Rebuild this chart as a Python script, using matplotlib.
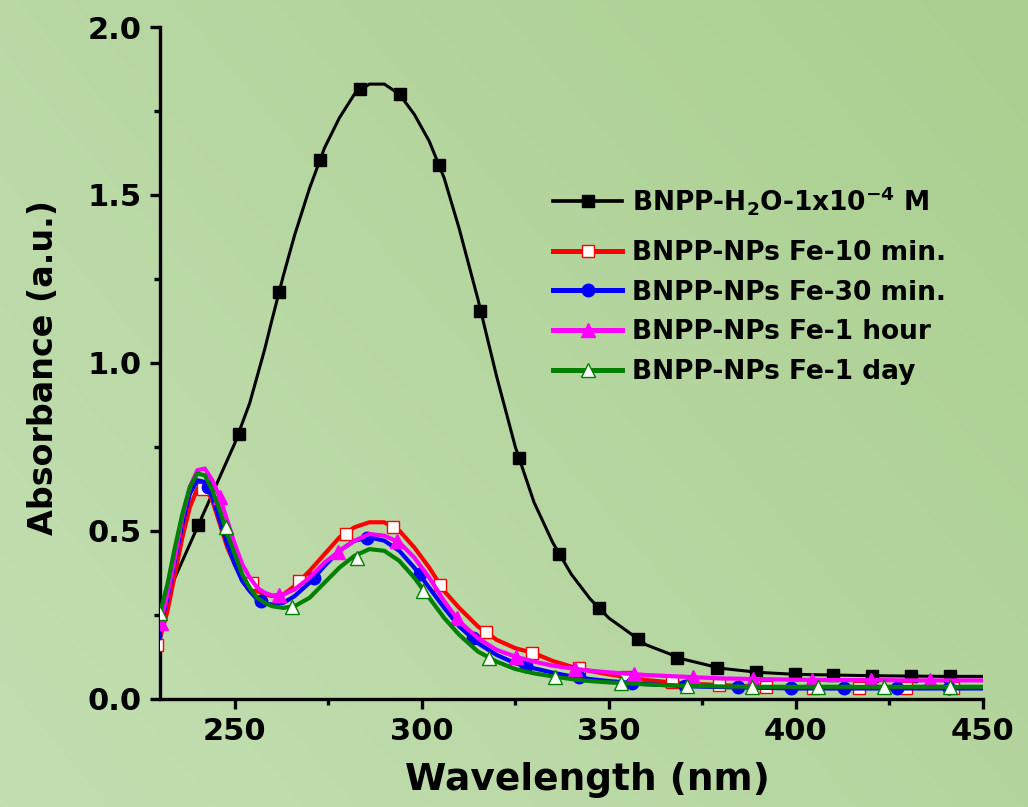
import numpy as np
import matplotlib
matplotlib.use('Agg')
import matplotlib.pyplot as plt
from matplotlib.lines import Line2D
from matplotlib.colors import LinearSegmentedColormap

# -------------------- data --------------------
wl = [230, 232, 234, 236, 238, 240, 242, 244, 246, 248, 250, 252, 254, 256, 258,
      260, 263, 266, 270, 274, 278, 282, 286, 290, 294, 298, 302, 306, 310, 315,
      320, 325, 330, 335, 340, 345, 350, 360, 370, 380, 390, 400, 410, 420, 430, 440, 450]

h2o = [0.27, 0.31, 0.36, 0.41, 0.46, 0.51, 0.56, 0.61, 0.66, 0.71, 0.76, 0.82, 0.88, 0.96, 1.04,
       1.13, 1.26, 1.38, 1.52, 1.64, 1.73, 1.80, 1.83, 1.83, 1.80, 1.74, 1.66, 1.55, 1.40, 1.19,
       0.96, 0.75, 0.585, 0.465, 0.37, 0.297, 0.24, 0.16, 0.117, 0.09, 0.078, 0.072, 0.07, 0.068, 0.067, 0.066, 0.066]

fe_10min = [0.18, 0.26, 0.37, 0.48, 0.57, 0.625, 0.63, 0.59, 0.52, 0.45, 0.40, 0.36, 0.34, 0.32, 0.31,
            0.305, 0.31, 0.335, 0.38, 0.43, 0.48, 0.51, 0.525, 0.525, 0.50, 0.45, 0.39, 0.32, 0.27, 0.215,
            0.175, 0.15, 0.135, 0.112, 0.095, 0.082, 0.072, 0.055, 0.045, 0.04, 0.035, 0.032, 0.032, 0.032, 0.032, 0.032, 0.032]

fe_30min = [0.21, 0.30, 0.41, 0.52, 0.61, 0.65, 0.645, 0.60, 0.53, 0.46, 0.40, 0.35, 0.32, 0.295, 0.283,
            0.28, 0.285, 0.305, 0.345, 0.395, 0.44, 0.47, 0.48, 0.47, 0.44, 0.39, 0.33, 0.27, 0.215, 0.165,
            0.13, 0.105, 0.09, 0.077, 0.066, 0.058, 0.052, 0.043, 0.037, 0.034, 0.032, 0.03, 0.03, 0.03, 0.03, 0.03, 0.03]

fe_1hour = [0.22, 0.31, 0.42, 0.54, 0.63, 0.68, 0.685, 0.65, 0.60, 0.53, 0.46, 0.40, 0.36, 0.33, 0.315,
            0.307, 0.31, 0.325, 0.36, 0.405, 0.44, 0.47, 0.49, 0.485, 0.465, 0.42, 0.36, 0.29, 0.23, 0.18,
            0.145, 0.125, 0.11, 0.098, 0.09, 0.083, 0.078, 0.07, 0.065, 0.06, 0.058, 0.056, 0.055, 0.055, 0.054, 0.054, 0.054]

fe_1day = [0.255, 0.34, 0.45, 0.55, 0.63, 0.67, 0.665, 0.62, 0.56, 0.49, 0.43, 0.37, 0.33, 0.30, 0.285,
           0.275, 0.27, 0.275, 0.30, 0.345, 0.39, 0.425, 0.445, 0.44, 0.41, 0.36, 0.30, 0.24, 0.19, 0.14,
           0.11, 0.088, 0.075, 0.066, 0.058, 0.052, 0.048, 0.042, 0.038, 0.036, 0.035, 0.035, 0.035, 0.035, 0.035, 0.035, 0.035]

# marker positions (symbols are only drawn every few points in the original)
h2o_mx = [240.2, 251.1, 261.8, 272.8, 283.5, 294.2, 304.6, 315.6, 326.0, 336.7,
          347.4, 357.7, 368.3, 378.9, 389.3, 399.7, 410.0, 420.5, 430.8, 441.3]
h2o_my = [0.516, 0.787, 1.21, 1.605, 1.815, 1.80, 1.59, 1.155, 0.715, 0.43,
          0.27, 0.178, 0.122, 0.09, 0.078, 0.072, 0.07, 0.068, 0.067, 0.066]

fe_10min_mx = [229.1, 241.6, 254.5, 267.2, 279.7, 292.4, 304.9, 317.3, 329.6, 342.0,
               354.6, 367.0, 379.6, 392.0, 404.5, 417.0, 429.5, 442.0]
fe_10min_my = [0.16, 0.625, 0.343, 0.35, 0.49, 0.51, 0.338, 0.197, 0.136, 0.09,
               0.065, 0.048, 0.04, 0.034, 0.032, 0.032, 0.032, 0.032]

fe_30min_mx = [228.7, 242.9, 257.1, 271.2, 285.4, 299.5, 313.7, 327.9, 342.0, 356.2,
               370.3, 384.5, 398.7, 412.8, 427.0, 441.1]
fe_30min_my = [0.19, 0.63, 0.29, 0.36, 0.478, 0.37, 0.18, 0.098, 0.063, 0.045,
               0.037, 0.033, 0.03, 0.03, 0.03, 0.03]

fe_1hour_mx = [230.2, 246.0, 261.8, 277.7, 293.5, 309.3, 325.2, 341.0, 356.8, 372.6,
               388.5, 404.3, 420.2, 436.0]
fe_1hour_my = [0.225, 0.60, 0.308, 0.435, 0.47, 0.24, 0.125, 0.089, 0.072, 0.064,
               0.058, 0.056, 0.055, 0.054]

fe_1day_mx = [230.0, 247.6, 265.2, 282.8, 300.4, 318.0, 335.6, 353.2, 370.8, 388.4,
              406.0, 423.6, 441.2]
fe_1day_my = [0.255, 0.51, 0.273, 0.42, 0.32, 0.12, 0.065, 0.047, 0.038, 0.035,
              0.035, 0.035, 0.035]

labels = ['BNPP-H$_2$O-1x10$^{-4}$ M', 'BNPP-NPs Fe-10 min.', 'BNPP-NPs Fe-30 min.',
          'BNPP-NPs Fe-1 hour', 'BNPP-NPs Fe-1 day']

# ---------------------- plotting -----------------------------
plt.rcParams['mathtext.default'] = 'regular'
plt.rcParams['font.family'] = 'DejaVu Sans'
plt.rcParams['font.weight'] = 'bold'

fig = plt.figure(figsize=(10.28, 8.07), dpi=100)

# green gradient background
bg = fig.add_axes([0, 0, 1, 1], zorder=-10)
bg.axis('off')
gx, gy = np.meshgrid(np.linspace(0, 1, 256), np.linspace(0, 1, 256))
grad = 0.6 * gx + 0.4 * (1 - gy)
cmap = LinearSegmentedColormap.from_list('bg', ['#c3dfb2', '#aacf90'])
bg.imshow(grad, cmap=cmap, aspect='auto', extent=[0, 1, 0, 1], origin='upper')

ax = fig.add_axes([0.1556, 0.1344, 0.8004, 0.8321])
ax.set_facecolor('none')

series = [
    (h2o, h2o_mx, h2o_my, 'black', 's', 'black', 'black', 2.2, 8.5),
    (fe_10min, fe_10min_mx, fe_10min_my, '#ff0000', 's', 'white', '#ff0000', 3.0, 9),
    (fe_30min, fe_30min_mx, fe_30min_my, '#0000ff', 'o', '#0000ff', '#0000ff', 3.0, 9),
    (fe_1hour, fe_1hour_mx, fe_1hour_my, '#ff00ff', '^', '#ff00ff', '#ff00ff', 3.0, 10),
    (fe_1day, fe_1day_mx, fe_1day_my, '#008000', '^', 'white', '#008000', 3.0, 10),
]

handles = []
for i, (vals, mx, my, col, mk, mfc, mec, lw, ms) in enumerate(series):
    ax.plot(wl, vals, color=col, lw=lw, zorder=2 + i)
    ax.plot(mx, my, ls='none', marker=mk, ms=ms, mfc=mfc, mec=mec, mew=1.0, zorder=2 + i)
    handles.append(Line2D([], [], color=col, lw=lw * 1.2, marker=mk, ms=ms,
                          mfc=mfc, mec=mec, mew=1.0))

ax.set_xlim(230, 450)
ax.set_ylim(0, 2.0)
ax.set_xticks([250, 300, 350, 400, 450])
ax.set_xticks([275, 325, 375, 425], minor=True)
ax.set_yticks([0.0, 0.5, 1.0, 1.5, 2.0])
ax.set_yticklabels(['0.0', '0.5', '1.0', '1.5', '2.0'])
ax.set_yticks([0.25, 0.75, 1.25, 1.75], minor=True)

for s in ['top', 'right']:
    ax.spines[s].set_visible(False)
for s in ['left', 'bottom']:
    ax.spines[s].set_linewidth(2.4)

ax.tick_params(which='major', direction='out', length=7, width=2.4, pad=6, labelsize=22)
ax.tick_params(which='minor', direction='out', length=4, width=2.4)

ax.set_xlabel('Wavelength (nm)', fontsize=27, fontweight='bold')
ax.set_ylabel('Absorbance (a.u.)', fontsize=24, fontweight='bold')
ax.xaxis.set_label_coords(0.52, -0.094)
ax.yaxis.set_label_coords(-0.122, 0.493)

# legend: the first entry sits a bit apart from the other four
leg_props = {'family': 'DejaVu Sans', 'weight': 'bold', 'size': 19}
leg1 = ax.legend(handles[:1], labels[:1], loc='center left', bbox_to_anchor=(0.478, 0.742),
                 frameon=False, handlelength=2.6, handletextpad=0.37,
                 borderaxespad=0, borderpad=0, prop=leg_props)
ax.add_artist(leg1)
leg2 = ax.legend(handles[1:], labels[1:], loc='center left', bbox_to_anchor=(0.478, 0.575),
                 frameon=False, handlelength=2.6, handletextpad=0.37, labelspacing=0.52,
                 borderaxespad=0, borderpad=0, prop=leg_props)

fig.savefig('out.png', dpi=100)
